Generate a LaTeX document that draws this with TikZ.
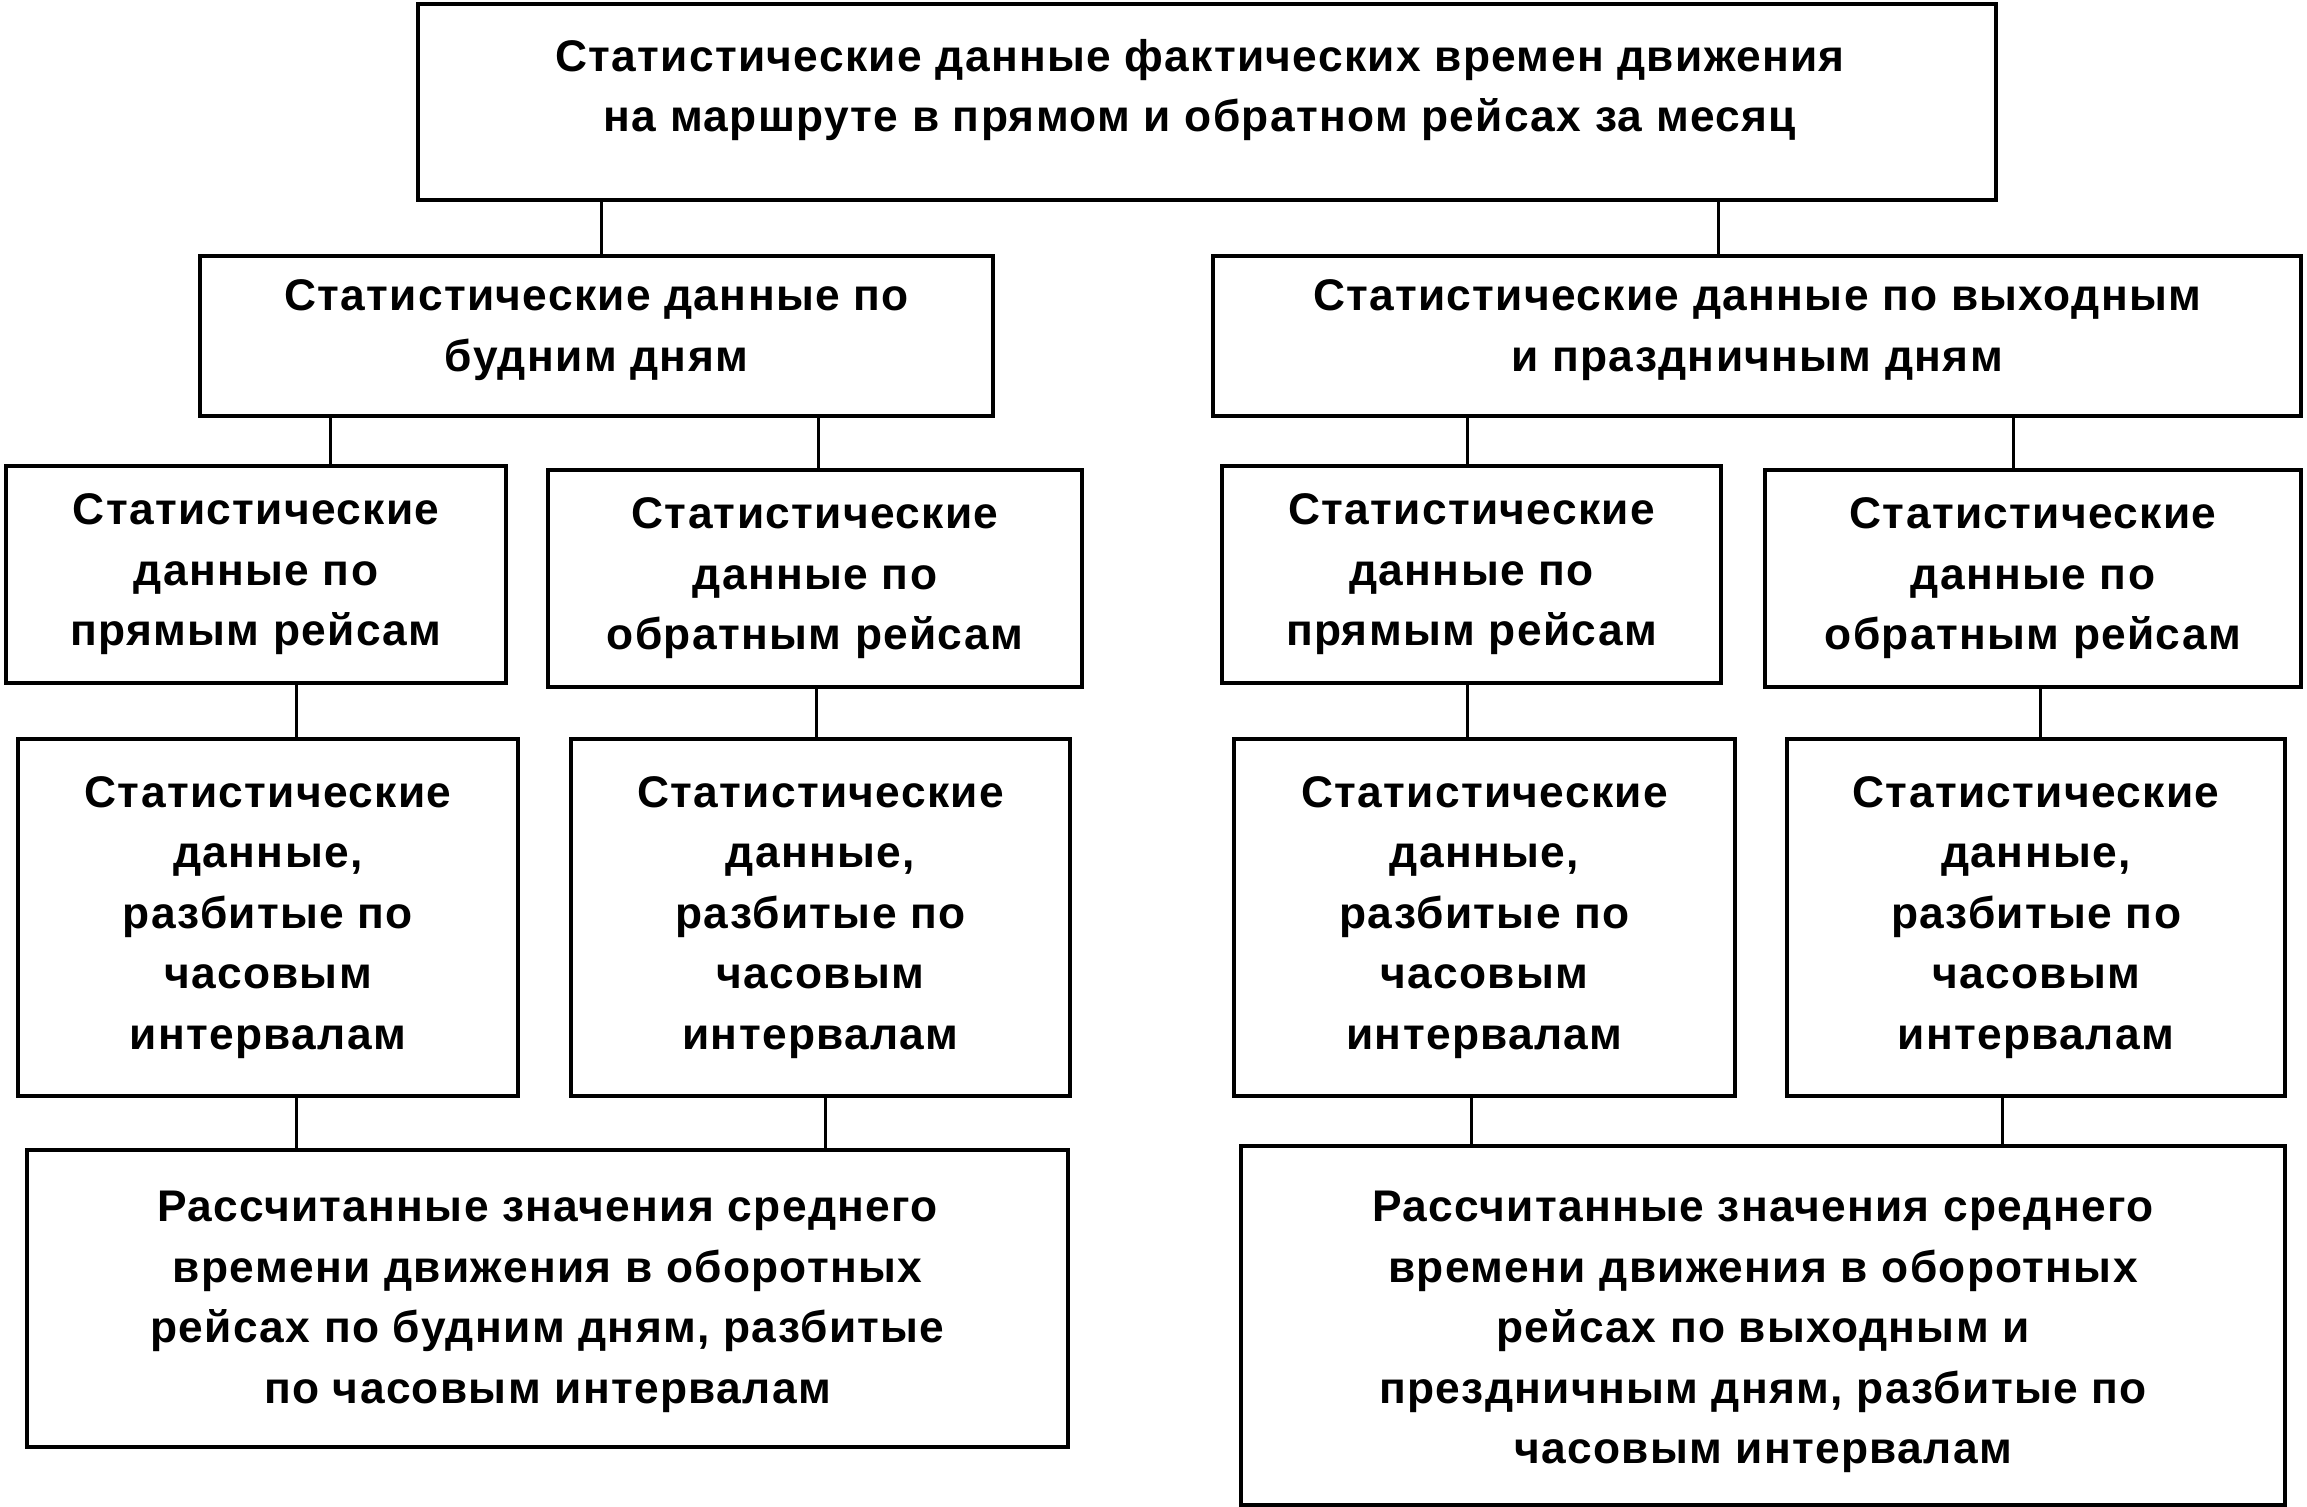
\documentclass[tikz,border=0pt]{standalone}
\usepackage{fontspec}
\setmainfont{Liberation Sans}[LetterSpace=3]
\begin{document}
\begin{tikzpicture}[x=0.01cm,y=-0.01cm,
  box/.style 2 args={draw, line width=1.1pt, inner sep=0pt, minimum width=#1*0.01cm, minimum height=#2*0.01cm,
    align=center, font=\bfseries\fontsize{12.6}{17.2}\selectfont},
  txt/.style={align=center, inner sep=0pt, font=\bfseries\fontsize{12.6}{17.2}\selectfont},
  link/.style={line width=0.85pt}]
\useasboundingbox (0,0) rectangle (2307,1507);
% level 1
\node[box={1578}{196}] (T) at (1207,102) {};
\node[txt] (Tt) at (1200,90) {Статистические данные фактических времен движения\\на маршруте в прямом и обратном рейсах за месяц};
% level 2
\node[box={793}{160}] (L2l) at (596.5,336) {};
\node[txt] (L2lt) at (596.5,330) {Статистические данные по\\будним дням};
\node[box={1088}{160}] (L2r) at (1757,336) {};
\node[txt] (L2rt) at (1757,330) {Статистические данные по выходным\\и праздничным дням};
% level 3
\node[box={500}{217}] (A) at (256,574.5) {Статистические\\данные по\\прямым рейсам};
\node[box={534}{217}] (B) at (815,578.5) {Статистические\\данные по\\обратным рейсам};
\node[box={499}{217}] (C) at (1471.5,574.5) {Статистические\\данные по\\прямым рейсам};
\node[box={536}{217}] (D) at (2033,578.5) {Статистические\\данные по\\обратным рейсам};
% level 4
\node[box={500}{357}] (E) at (268,917.5) {Статистические\\данные,\\разбитые по\\часовым\\интервалам};
\node[box={499}{357}] (F) at (820.5,917.5) {Статистические\\данные,\\разбитые по\\часовым\\интервалам};
\node[box={501}{357}] (G) at (1484.5,917.5) {Статистические\\данные,\\разбитые по\\часовым\\интервалам};
\node[box={498}{357}] (H) at (2036,917.5) {Статистические\\данные,\\разбитые по\\часовым\\интервалам};
% level 5
\node[box={1041}{297}] (L) at (547.5,1298.5) {};
\node[txt] (Lt) at (547.5,1302) {Рассчитанные значения среднего\\времени движения в оборотных\\рейсах по будним дням, разбитые\\по часовым интервалам};
\node[box={1044}{359}] (R) at (1763,1325.5) {};
\node[txt] (Rt) at (1763,1332) {Рассчитанные значения среднего\\времени движения в оборотных\\рейсах по выходным и\\прездничным дням, разбитые по\\часовым интервалам};
% connectors
\draw[link] ([xshift=0.045cm]L2l.north) -- ([xshift=0.045cm]L2l.north |- T.south);
\draw[link] ([xshift=-0.39cm]L2r.north) -- ([xshift=-0.39cm]L2r.north |- T.south);
\draw[link] ([xshift=0.74cm]A.north) -- ([xshift=0.74cm]A.north |- L2l.south);
\draw[link] ([xshift=0.03cm]B.north) -- ([xshift=0.03cm]B.north |- L2l.south);
\draw[link] ([xshift=-0.045cm]C.north) -- ([xshift=-0.045cm]C.north |- L2r.south);
\draw[link] ([xshift=-0.2cm]D.north) -- ([xshift=-0.2cm]D.north |- L2r.south);
\draw[link] ([xshift=0.28cm]E.north) -- ([xshift=0.28cm]E.north |- A.south);
\draw[link] ([xshift=-0.045cm]F.north) -- ([xshift=-0.045cm]F.north |- B.south);
\draw[link] ([xshift=-0.175cm]G.north) -- ([xshift=-0.175cm]G.north |- C.south);
\draw[link] ([xshift=0.04cm]H.north) -- ([xshift=0.04cm]H.north |- D.south);
\draw[link] ([xshift=0.28cm]E.south) -- ([xshift=0.28cm]E.south |- L.north);
\draw[link] ([xshift=0.045cm]F.south) -- ([xshift=0.045cm]F.south |- L.north);
\draw[link] ([xshift=-0.135cm]G.south) -- ([xshift=-0.135cm]G.south |- R.north);
\draw[link] ([xshift=-0.34cm]H.south) -- ([xshift=-0.34cm]H.south |- R.north);
\end{tikzpicture}
\end{document}
